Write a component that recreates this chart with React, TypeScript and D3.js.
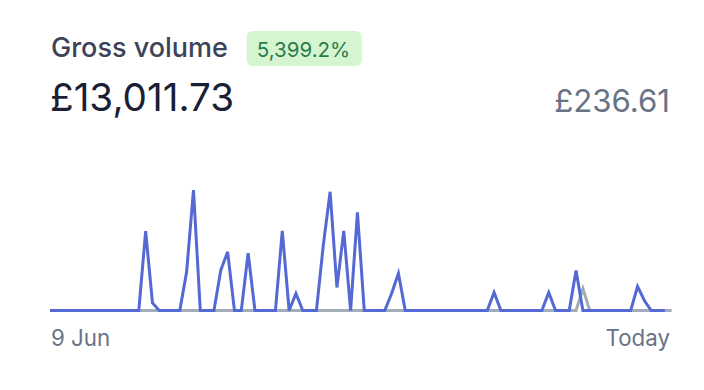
import React from "react";
import * as d3 from "d3";

// Daily gross volume (GBP), 9 Jun → today
const currentValues: number[] = [
  0, 0, 0, 0, 0, 0, 0, 0, 0, 0,
  0, 0, 0, 0, 952, 91, 0, 0, 0, 0,
  463, 1444, 0, 0, 0, 484, 703, 0, 0, 688,
  0, 0, 0, 0, 955, 0, 204, 0, 0, 0,
  780, 1423, 276, 955, 0, 1176, 0, 0, 0, 0,
  204, 444, 0, 0, 0, 0, 0, 0, 0, 0,
  0, 0, 0, 0, 0, 216, 0, 0, 0, 0,
  0, 0, 0, 216, 0, 0, 0, 480, 0, 0,
  0, 0, 0, 0, 0, 0, 288, 120, 0, 0,
  0,
];
// Previous period (GBP)
const previousValues: number[] = [
  0, 0, 0, 0, 0, 0, 0, 0, 0, 0,
  0, 0, 0, 0, 0, 0, 0, 0, 0, 0,
  0, 0, 0, 0, 0, 0, 0, 0, 0, 0,
  0, 0, 0, 0, 0, 0, 0, 0, 0, 0,
  0, 0, 0, 0, 0, 0, 0, 0, 0, 0,
  0, 0, 0, 0, 0, 0, 0, 0, 0, 0,
  0, 0, 0, 0, 0, 0, 0, 0, 0, 0,
  0, 0, 0, 0, 0, 0, 0, 0, 264, 0,
  0, 0, 0, 0, 0, 0, 0, 0, 0, 0,
  0, 0,
];
const title = "Gross volume";
const changeLabel = "5,399.2%";
const totalLabel = "£13,011.73";
const previousLabel = "£236.61";
const xTickLabels = ["9 Jun", "Today"];

const W = 704;
const H = 390;
const FONT = "Inter, 'Noto Sans', sans-serif";

export default function App() {
  const n = previousValues.length;
  const x = d3.scaleLinear().domain([0, n - 1]).range([50, 671.7]);
  const y = d3.scaleLinear().domain([0, 1444]).range([310.5, 190]);
  const line = d3
    .line<number>()
    .x((_, i) => x(i))
    .y((d) => y(d));

  return (
    <svg
      width={W}
      height={H}
      style={{ position: "absolute", left: 0, top: 0, background: "#fff" }}
      fontFamily={FONT}
    >
      <text x={51} y={57.3} fontSize={27} fontWeight={500} fill="#3c4257">
        {title}
      </text>
      <rect x={246.7} y={31} width={115} height={35} rx={6} fill="#d4f5d0" />
      <text
        x={303.5}
        y={56.5}
        fontSize={20.5}
        fontWeight={400}
        fill="#2b7a4b"
        textAnchor="middle"
      >
        {changeLabel}
      </text>
      <text x={50} y={110.7} fontSize={38.7} fontWeight={400} fill="#1a1f36">
        {totalLabel}
      </text>
      <text
        x={670}
        y={112.3}
        fontSize={31.2}
        fontWeight={400}
        fill="#697386"
        textAnchor="end"
      >
        {previousLabel}
      </text>

      <path
        d={line(previousValues) || ""}
        fill="none"
        stroke="#a3acb9"
        strokeWidth={3}
        strokeLinejoin="miter"
      />
      <path
        d={line(currentValues) || ""}
        fill="none"
        stroke="#5469d4"
        strokeWidth={3}
        strokeLinejoin="miter"
      />

      <text x={51} y={346} fontSize={22.3} fill="#697386">
        {xTickLabels[0]}
      </text>
      <text x={670} y={346} fontSize={22.3} fill="#697386" textAnchor="end">
        {xTickLabels[1]}
      </text>
    </svg>
  );
}
